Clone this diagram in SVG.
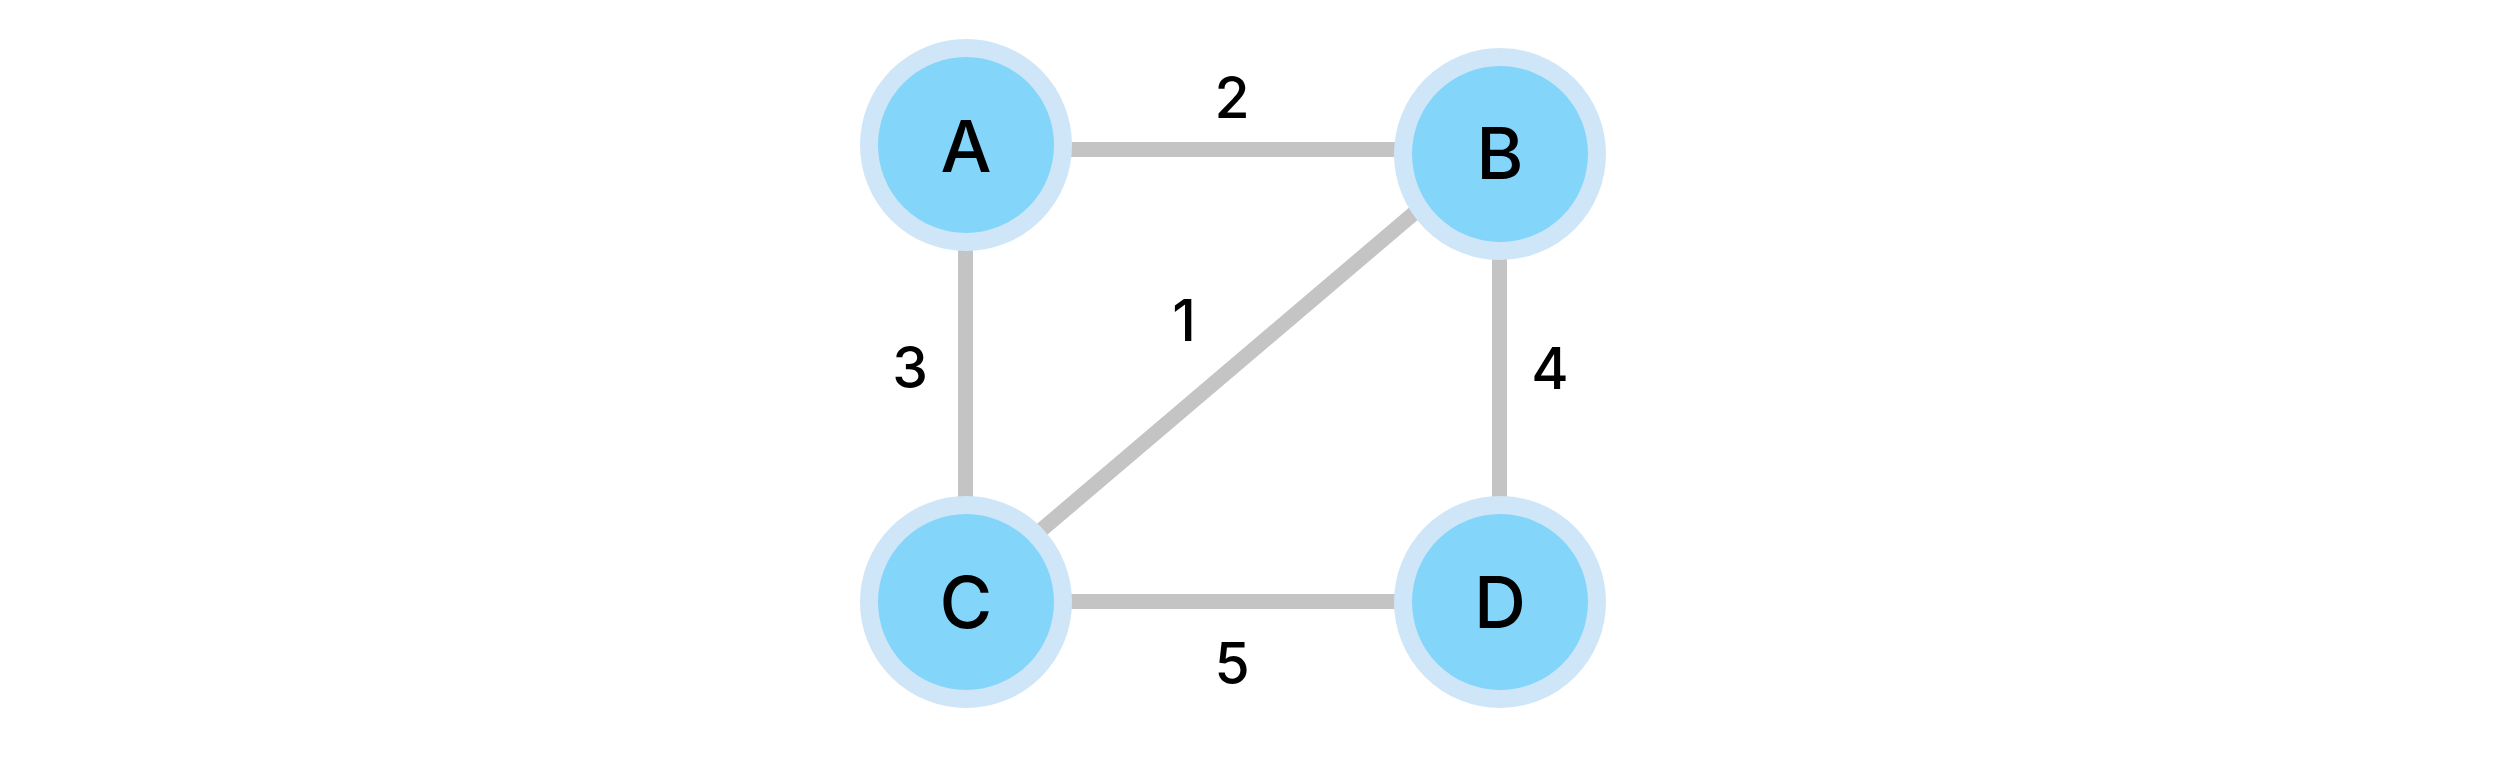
<svg xmlns="http://www.w3.org/2000/svg" width="2501" height="764" viewBox="0 0 2501 764">
<style>
.edge{stroke:#c4c4c4;stroke-width:15;fill:none}
.node circle{fill:#84d5fa;stroke:#cfe6f8;stroke-width:18}
.nl{font-family:Inter,"Liberation Sans",sans-serif;font-size:72px;font-weight:500;fill:#000;text-anchor:middle}
.el{font-family:Inter,"Liberation Sans",sans-serif;font-size:57px;font-weight:500;fill:#000;text-anchor:middle}
</style>
<rect width="2501" height="764" fill="#fff"/>
<g id="connectors">
<line class="edge" x1="966" y1="149.5" x2="1500" y2="149.5"/>
<line class="edge" x1="965.5" y1="145" x2="965.5" y2="602"/>
<line class="edge" x1="1499.5" y1="154" x2="1499.5" y2="602"/>
<line class="edge" x1="966" y1="601.5" x2="1500" y2="601.5"/>
<line class="edge" x1="1499" y1="141" x2="966" y2="594"/>
<text class="el" x="1232" y="118">2</text>
<text class="el" x="1184" y="341">1</text>
<text class="el" x="910" y="388">3</text>
<text class="el" x="1550" y="389">4</text>
<text class="el" x="1232" y="684">5</text>
</g>
<g id="node-A" class="node"><circle cx="966" cy="145" r="97"/><text class="nl" x="966" y="172">A</text></g>
<g id="node-B" class="node"><circle cx="1500" cy="154" r="97"/><text class="nl" x="1500" y="179">B</text></g>
<g id="node-C" class="node"><circle cx="966" cy="602" r="97"/><text class="nl" x="966" y="628">C</text></g>
<g id="node-D" class="node"><circle cx="1500" cy="602" r="97"/><text class="nl" x="1500" y="628">D</text></g>
</svg>
